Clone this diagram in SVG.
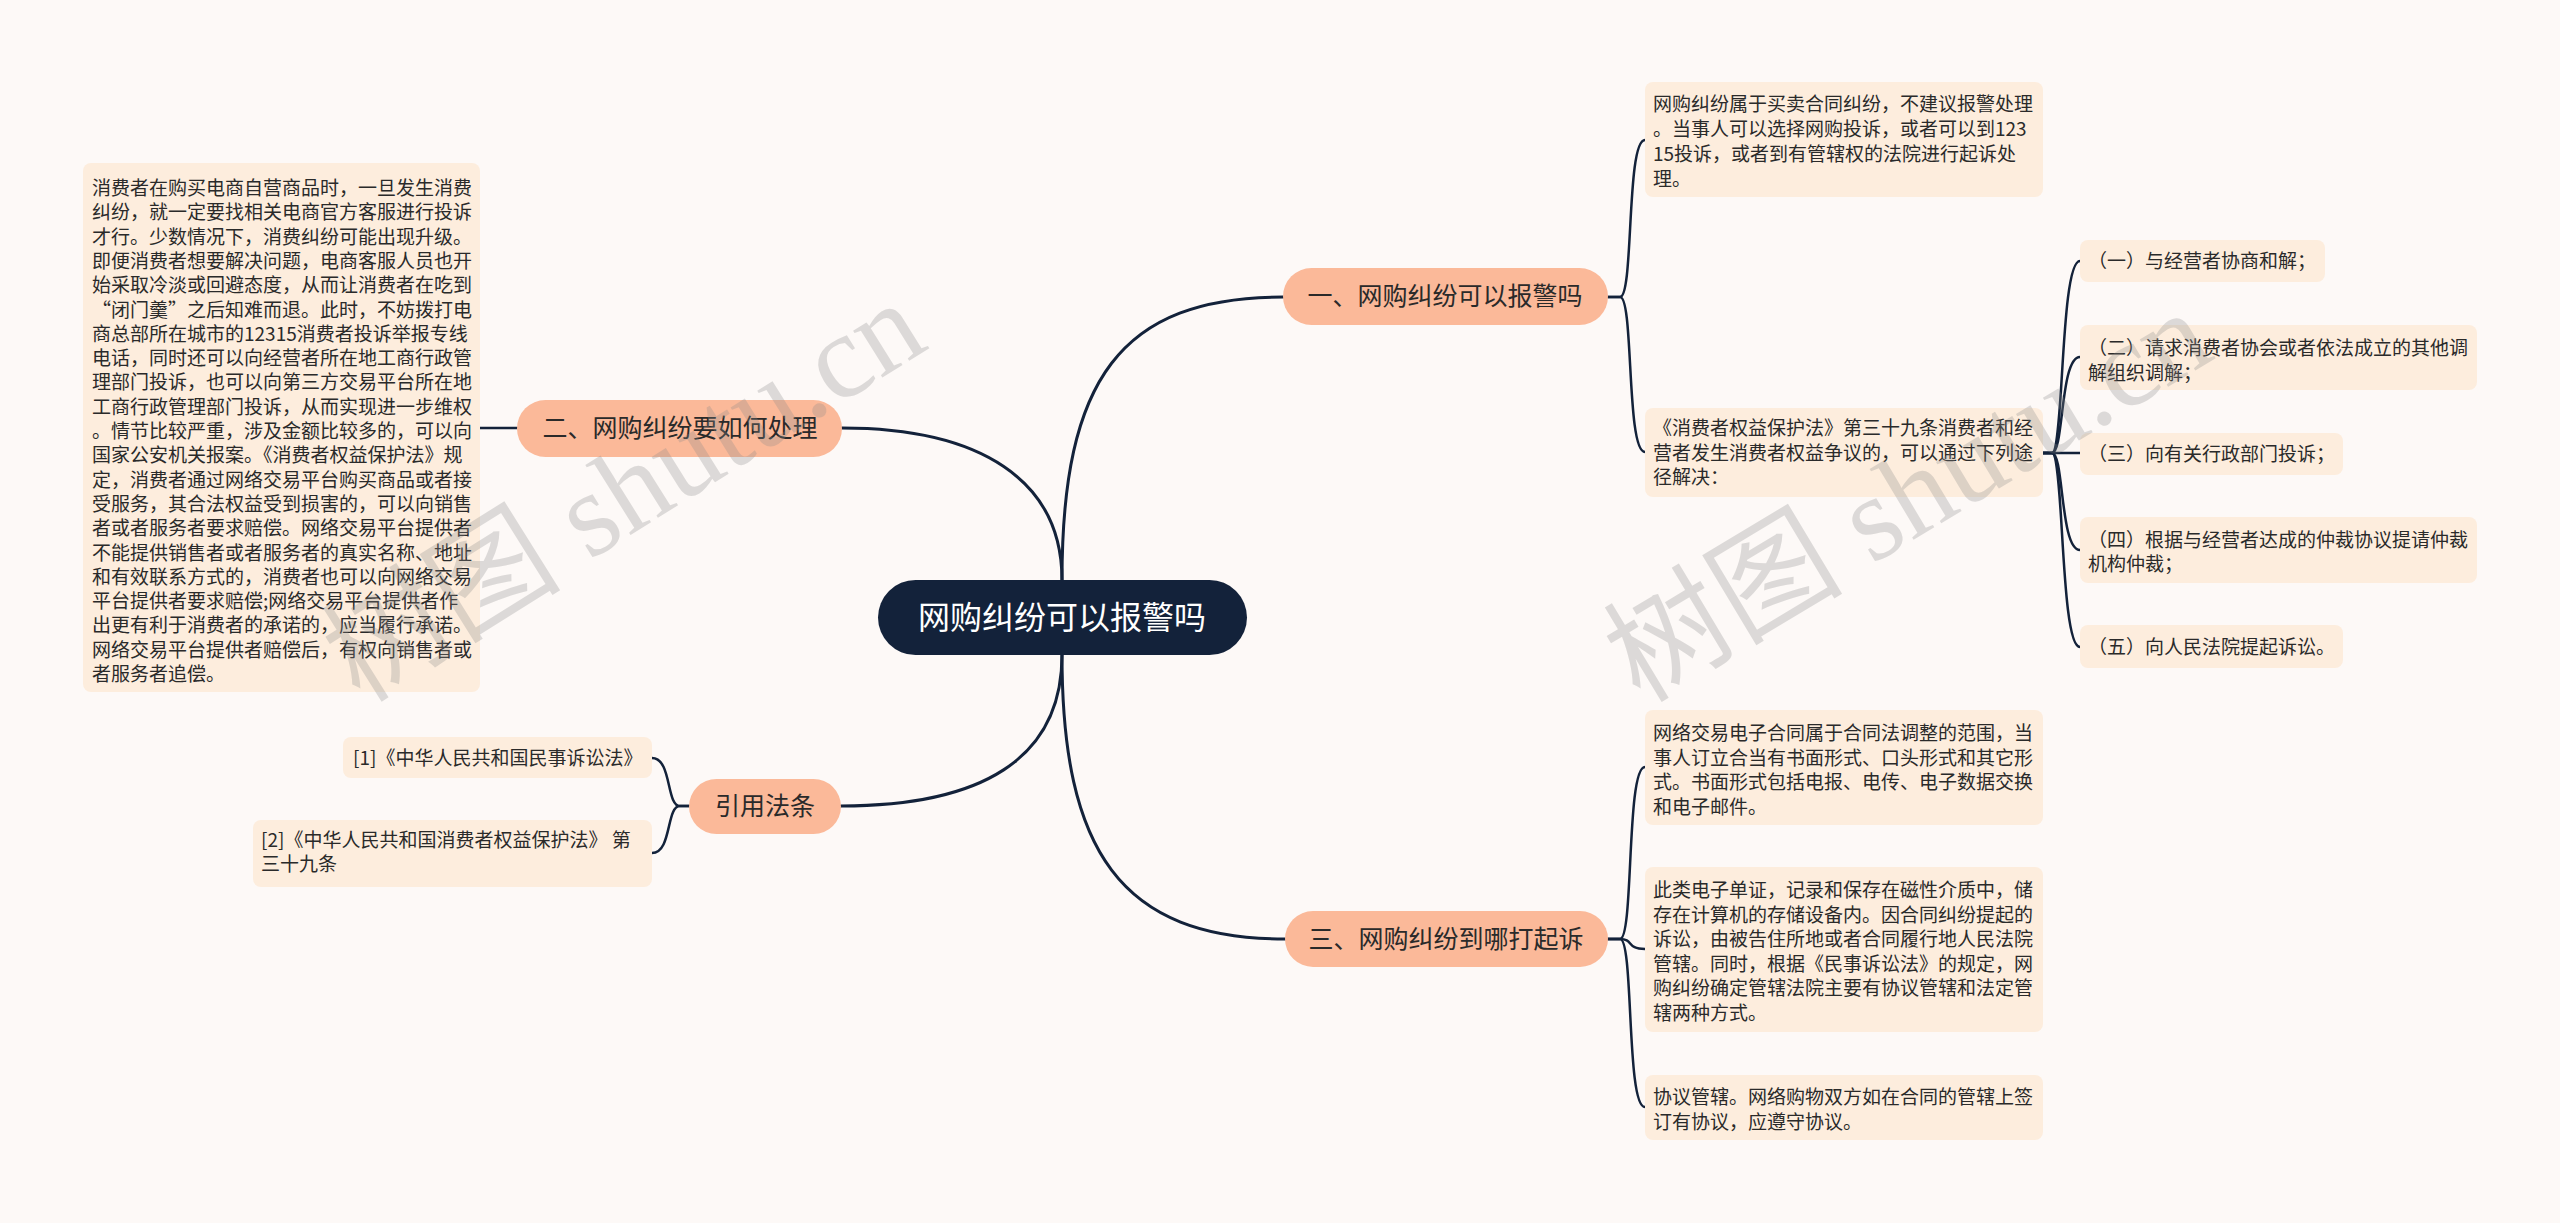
<svg xmlns="http://www.w3.org/2000/svg" width="2560" height="1223" viewBox="0 0 2560 1223">
<style>
.bg{fill:#fdf9f7}
.leaf{fill:#fdeddd}
.br{fill:#fbb999}
.t{font-family:"Noto Sans CJK SC","Noto Sans",sans-serif;font-size:19px;fill:#2a2a2a}
.bt{font-family:"Noto Sans CJK SC","Noto Sans",sans-serif;font-size:25px;fill:#2a2a2a;text-anchor:middle}
.ct{font-family:"Noto Sans CJK SC","Noto Sans",sans-serif;font-size:32px;fill:#ffffff;text-anchor:middle}
.ln{fill:none;stroke:#13223a;stroke-width:3;stroke-linecap:round}
.ln2{fill:none;stroke:#13223a;stroke-width:2.5;stroke-linecap:round}
.wm{font-family:"Liberation Serif","Noto Sans CJK SC",serif;font-size:120px;fill:#8a8a8a;opacity:0.28}
</style>
<rect class="bg" x="0" y="0" width="2560" height="1223"/>

<g id="connectors">
  <path class="ln" d="M1062 580 C1062 380 1120 297 1283 297"/>
  <path class="ln" d="M1062 580 C1062 480 980 428 842 428"/>
  <path class="ln" d="M1062 655 C1062 850 1120 939 1285 939"/>
  <path class="ln" d="M1062 655 C1062 760 980 806 841 806"/>
  <path class="ln2" d="M517 428 H480"/>
  <path class="ln2" d="M1608 297 H1620 C1634 297 1626 140 1645 140"/>
  <path class="ln2" d="M1608 297 H1620 C1634 297 1626 452 1645 452"/>
  <path class="ln2" d="M2043 453 H2052 C2064 453 2060 261 2080 261"/>
  <path class="ln2" d="M2043 453 H2052 C2064 453 2060 357 2080 357"/>
  <path class="ln2" d="M2043 453 H2080"/>
  <path class="ln2" d="M2043 453 H2052 C2064 453 2060 550 2080 550"/>
  <path class="ln2" d="M2043 453 H2052 C2064 453 2060 647 2080 647"/>
  <path class="ln2" d="M1608 939 H1620 C1634 939 1626 767 1645 767"/>
  <path class="ln2" d="M1608 939 H1620 C1634 939 1626 949 1645 949"/>
  <path class="ln2" d="M1608 939 H1620 C1634 939 1626 1107 1645 1107"/>
  <path class="ln2" d="M689 806 H680 C666 806 672 758 652 758"/>
  <path class="ln2" d="M689 806 H680 C666 806 672 853 652 853"/>
</g>

<g id="center">
  <rect x="878" y="580" width="369" height="75" rx="37.5" fill="#13223a"/>
  <text class="ct" x="1062" y="629">网购纠纷可以报警吗</text>
</g>

<g id="branch1">
  <rect class="br" x="1283" y="268" width="325" height="57" rx="28.5"/>
  <text class="bt" x="1445" y="305">一、网购纠纷可以报警吗</text>
</g>
<g id="branch2">
  <rect class="br" x="517" y="400" width="325" height="57" rx="28.5"/>
  <text class="bt" x="680" y="437">二、网购纠纷要如何处理</text>
</g>
<g id="branch3">
  <rect class="br" x="1285" y="911" width="323" height="56" rx="28"/>
  <text class="bt" x="1446" y="948">三、网购纠纷到哪打起诉</text>
</g>
<g id="branch4">
  <rect class="br" x="689" y="779" width="152" height="55" rx="27.5"/>
  <text class="bt" x="765" y="815">引用法条</text>
</g>

<g id="leaf-left">
  <rect class="leaf" x="83" y="163" width="397" height="529" rx="8"/>
  <text class="t">
    <tspan x="92" y="195">消费者在购买电商自营商品时，一旦发生消费</tspan>
    <tspan x="92" y="219.3">纠纷，就一定要找相关电商官方客服进行投诉</tspan>
    <tspan x="92" y="243.6">才行。少数情况下，消费纠纷可能出现升级。</tspan>
    <tspan x="92" y="267.9">即便消费者想要解决问题，电商客服人员也开</tspan>
    <tspan x="92" y="292.2">始采取冷淡或回避态度，从而让消费者在吃到</tspan>
    <tspan x="92" y="316.5">“闭门羹”之后知难而退。此时，不妨拨打电</tspan>
    <tspan x="92" y="340.8">商总部所在城市的12315消费者投诉举报专线</tspan>
    <tspan x="92" y="365.1">电话，同时还可以向经营者所在地工商行政管</tspan>
    <tspan x="92" y="389.4">理部门投诉，也可以向第三方交易平台所在地</tspan>
    <tspan x="92" y="413.7">工商行政管理部门投诉，从而实现进一步维权</tspan>
    <tspan x="92" y="438">。情节比较严重，涉及金额比较多的，可以向</tspan>
    <tspan x="92" y="462.3">国家公安机关报案。《消费者权益保护法》规</tspan>
    <tspan x="92" y="486.6">定，消费者通过网络交易平台购买商品或者接</tspan>
    <tspan x="92" y="510.9">受服务，其合法权益受到损害的，可以向销售</tspan>
    <tspan x="92" y="535.2">者或者服务者要求赔偿。网络交易平台提供者</tspan>
    <tspan x="92" y="559.5">不能提供销售者或者服务者的真实名称、地址</tspan>
    <tspan x="92" y="583.8">和有效联系方式的，消费者也可以向网络交易</tspan>
    <tspan x="92" y="608.1">平台提供者要求赔偿;网络交易平台提供者作</tspan>
    <tspan x="92" y="632.4">出更有利于消费者的承诺的，应当履行承诺。</tspan>
    <tspan x="92" y="656.7">网络交易平台提供者赔偿后，有权向销售者或</tspan>
    <tspan x="92" y="681">者服务者追偿。</tspan>
  </text>
</g>

<g id="leaf-r1">
  <rect class="leaf" x="1645" y="82" width="398" height="115" rx="8"/>
  <text class="t">
    <tspan x="1653" y="111">网购纠纷属于买卖合同纠纷，不建议报警处理</tspan>
    <tspan x="1653" y="136">。当事人可以选择网购投诉，或者可以到123</tspan>
    <tspan x="1653" y="161">15投诉，或者到有管辖权的法院进行起诉处</tspan>
    <tspan x="1653" y="186">理。</tspan>
  </text>
</g>
<g id="leaf-r2">
  <rect class="leaf" x="1645" y="408" width="398" height="89" rx="8"/>
  <text class="t">
    <tspan x="1653" y="435">《消费者权益保护法》第三十九条消费者和经</tspan>
    <tspan x="1653" y="459.5">营者发生消费者权益争议的，可以通过下列途</tspan>
    <tspan x="1653" y="484">径解决：</tspan>
  </text>
</g>

<g id="item1">
  <rect class="leaf" x="2080" y="240" width="245" height="42" rx="8"/>
  <text class="t" x="2088" y="268">（一）与经营者协商和解；</text>
</g>
<g id="item2">
  <rect class="leaf" x="2080" y="325" width="397" height="65" rx="8"/>
  <text class="t"><tspan x="2088" y="355">（二）请求消费者协会或者依法成立的其他调</tspan><tspan x="2088" y="379.5">解组织调解；</tspan></text>
</g>
<g id="item3">
  <rect class="leaf" x="2080" y="433" width="263" height="42" rx="8"/>
  <text class="t" x="2088" y="461">（三）向有关行政部门投诉；</text>
</g>
<g id="item4">
  <rect class="leaf" x="2080" y="517" width="397" height="66" rx="8"/>
  <text class="t"><tspan x="2088" y="546.5">（四）根据与经营者达成的仲裁协议提请仲裁</tspan><tspan x="2088" y="571">机构仲裁；</tspan></text>
</g>
<g id="item5">
  <rect class="leaf" x="2080" y="625" width="263" height="43" rx="8"/>
  <text class="t" x="2088" y="653.5">（五）向人民法院提起诉讼。</text>
</g>

<g id="leaf-r3">
  <rect class="leaf" x="1645" y="710" width="398" height="115" rx="8"/>
  <text class="t">
    <tspan x="1653" y="740">网络交易电子合同属于合同法调整的范围，当</tspan>
    <tspan x="1653" y="764.5">事人订立合当有书面形式、口头形式和其它形</tspan>
    <tspan x="1653" y="789">式。书面形式包括电报、电传、电子数据交换</tspan>
    <tspan x="1653" y="813.5">和电子邮件。</tspan>
  </text>
</g>
<g id="leaf-r4">
  <rect class="leaf" x="1645" y="867" width="398" height="165" rx="8"/>
  <text class="t">
    <tspan x="1653" y="897">此类电子单证，记录和保存在磁性介质中，储</tspan>
    <tspan x="1653" y="921.6">存在计算机的存储设备内。因合同纠纷提起的</tspan>
    <tspan x="1653" y="946.2">诉讼，由被告住所地或者合同履行地人民法院</tspan>
    <tspan x="1653" y="970.8">管辖。同时，根据《民事诉讼法》的规定，网</tspan>
    <tspan x="1653" y="995.4">购纠纷确定管辖法院主要有协议管辖和法定管</tspan>
    <tspan x="1653" y="1020">辖两种方式。</tspan>
  </text>
</g>
<g id="leaf-r5">
  <rect class="leaf" x="1645" y="1075" width="398" height="65" rx="8"/>
  <text class="t">
    <tspan x="1653" y="1104">协议管辖。网络购物双方如在合同的管辖上签</tspan>
    <tspan x="1653" y="1128.5">订有协议，应遵守协议。</tspan>
  </text>
</g>

<g id="ref1">
  <rect class="leaf" x="343" y="737" width="309" height="41" rx="8"/>
  <text class="t" x="353" y="764.5">[1]《中华人民共和国民事诉讼法》</text>
</g>
<g id="ref2">
  <rect class="leaf" x="253" y="820" width="399" height="67" rx="8"/>
  <text class="t"><tspan x="261" y="847">[2]《中华人民共和国消费者权益保护法》 第</tspan><tspan x="261" y="871">三十九条</tspan></text>
</g>

<g id="watermarks">
  <text class="wm" transform="translate(360 704) rotate(-32)">树图 shutu.cn</text>
  <text class="wm" transform="translate(1640 704) rotate(-31)">树图 shutu.cn</text>
</g>
</svg>
